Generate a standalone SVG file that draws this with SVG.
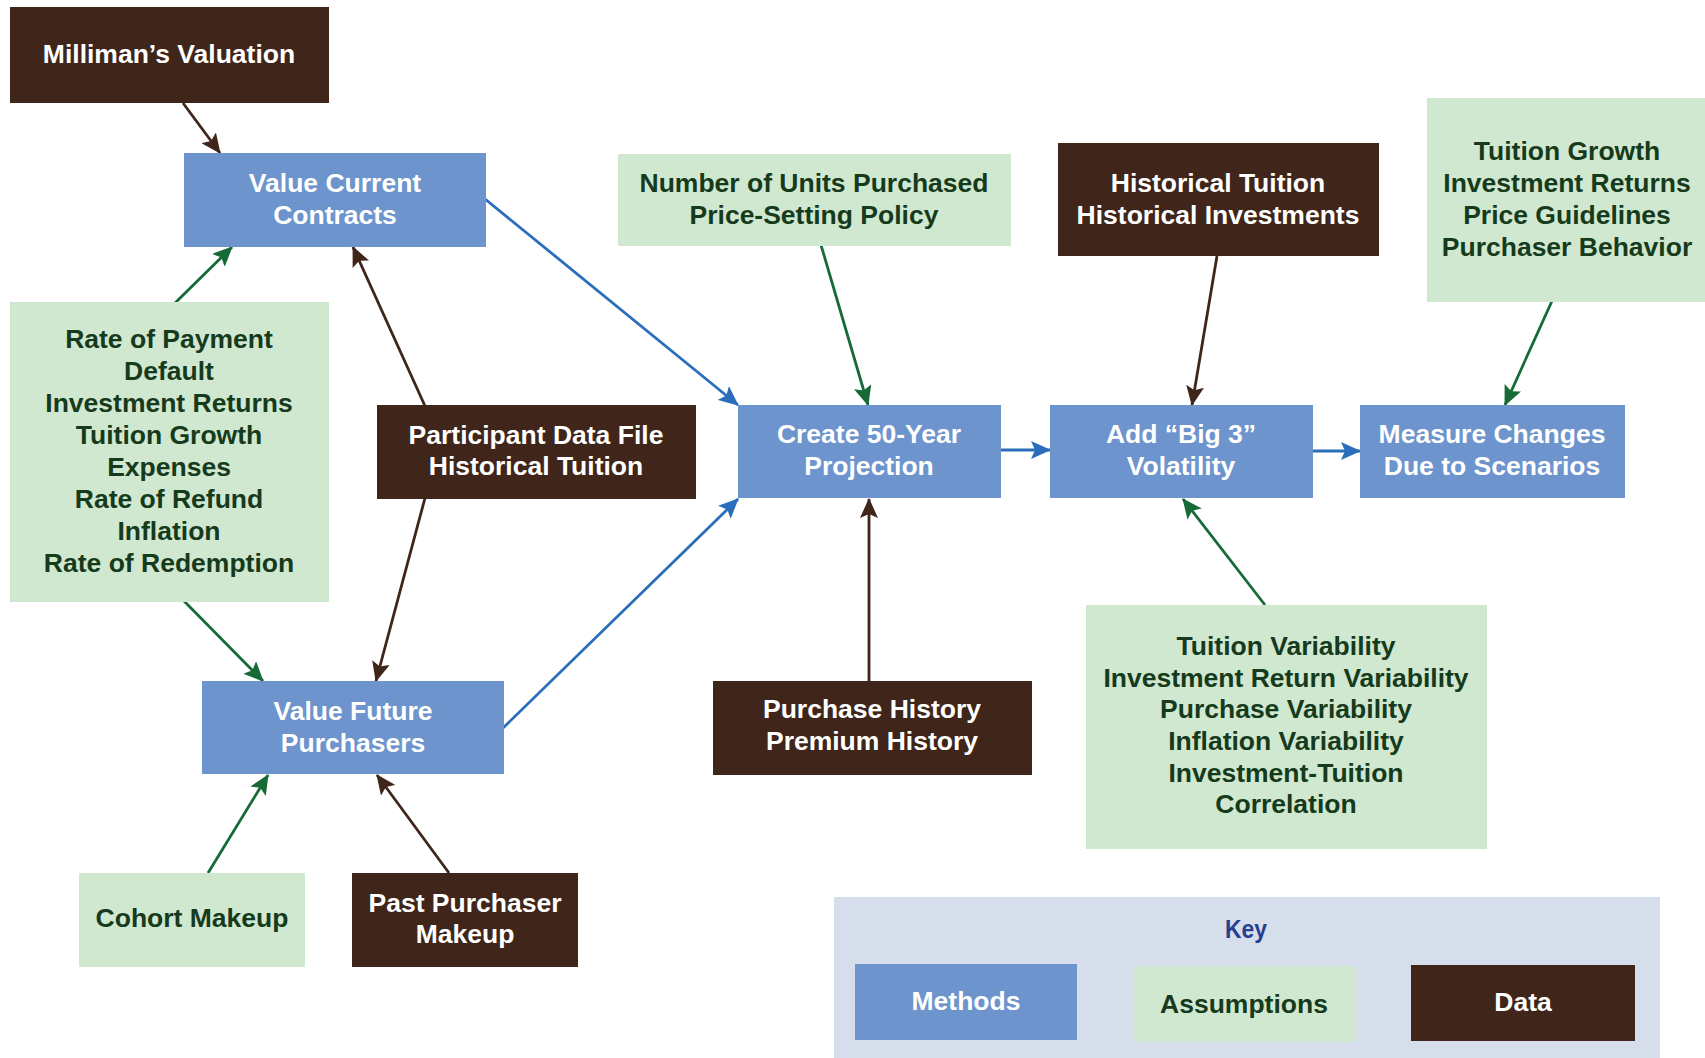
<svg xmlns="http://www.w3.org/2000/svg" width="1705" height="1058" viewBox="0 0 1705 1058">
<style>
.m{fill:#6d94cc}
.a{fill:#d0e8cf}
.d{fill:#40261a}
text{font-family:"Liberation Sans",Arial,sans-serif;font-weight:bold;font-size:26.5px;text-anchor:middle}
.tw{fill:#ffffff}
.tg{fill:#163a1c}
.cb{stroke:#2a6ebb;stroke-width:2.8;fill:none}
.cg{stroke:#166a36;stroke-width:2.8;fill:none}
.cd{stroke:#40261a;stroke-width:2.8;fill:none}
</style>
<defs>
<marker id="ab" viewBox="0 0 20 18" refX="19" refY="9" markerWidth="20" markerHeight="18" markerUnits="userSpaceOnUse" orient="auto"><path d="M0,0 L20,9 L0,18 L4,9 z" fill="#2a6ebb"/></marker>
<marker id="ag" viewBox="0 0 20 18" refX="19" refY="9" markerWidth="20" markerHeight="18" markerUnits="userSpaceOnUse" orient="auto"><path d="M0,0 L20,9 L0,18 L4,9 z" fill="#166a36"/></marker>
<marker id="ad" viewBox="0 0 20 18" refX="19" refY="9" markerWidth="20" markerHeight="18" markerUnits="userSpaceOnUse" orient="auto"><path d="M0,0 L20,9 L0,18 L4,9 z" fill="#40261a"/></marker>
</defs>
<rect width="1705" height="1058" fill="#ffffff"/>

<g id="connectors">
<line class="cd" x1="183" y1="103" x2="220" y2="153" marker-end="url(#ad)"/>
<line class="cg" x1="175" y1="303" x2="232" y2="247" marker-end="url(#ag)"/>
<line class="cd" x1="425" y1="406" x2="353" y2="247" marker-end="url(#ad)"/>
<line class="cd" x1="425" y1="498" x2="376" y2="681" marker-end="url(#ad)"/>
<line class="cg" x1="184" y1="601" x2="263" y2="681" marker-end="url(#ag)"/>
<line class="cb" x1="503" y1="728" x2="738" y2="499" marker-end="url(#ab)"/>
<line class="cb" x1="485" y1="199" x2="738" y2="405" marker-end="url(#ab)"/>
<line class="cg" x1="821" y1="245" x2="868" y2="405" marker-end="url(#ag)"/>
<line class="cd" x1="869" y1="682" x2="869" y2="499" marker-end="url(#ad)"/>
<line class="cb" x1="1001" y1="450" x2="1050" y2="450" marker-end="url(#ab)"/>
<line class="cd" x1="1217" y1="256" x2="1192" y2="405" marker-end="url(#ad)"/>
<line class="cb" x1="1313" y1="451" x2="1360" y2="451" marker-end="url(#ab)"/>
<line class="cg" x1="1552" y1="301" x2="1505" y2="405" marker-end="url(#ag)"/>
<line class="cg" x1="1265" y1="605" x2="1183" y2="499" marker-end="url(#ag)"/>
<line class="cg" x1="208" y1="873" x2="268" y2="775" marker-end="url(#ag)"/>
<line class="cd" x1="449" y1="873" x2="377" y2="775" marker-end="url(#ad)"/>
</g>

<g id="milliman">
<rect class="d" x="10" y="7" width="319" height="96"/>
<text class="tw" x="169" y="63">Milliman’s Valuation</text>
</g>

<g id="value-current">
<rect class="m" x="184" y="153" width="302" height="94"/>
<text class="tw" x="335" y="192">Value Current</text>
<text class="tw" x="335" y="224">Contracts</text>
</g>

<g id="assumptions-left">
<rect class="a" x="10" y="302" width="319" height="300"/>
<text class="tg" x="169" y="348">Rate of Payment</text>
<text class="tg" x="169" y="380">Default</text>
<text class="tg" x="169" y="412">Investment Returns</text>
<text class="tg" x="169" y="444">Tuition Growth</text>
<text class="tg" x="169" y="476">Expenses</text>
<text class="tg" x="169" y="508">Rate of Refund</text>
<text class="tg" x="169" y="540">Inflation</text>
<text class="tg" x="169" y="572">Rate of Redemption</text>
</g>

<g id="participant-data">
<rect class="d" x="377" y="405" width="319" height="94"/>
<text class="tw" x="536" y="444">Participant Data File</text>
<text class="tw" x="536" y="475">Historical Tuition</text>
</g>

<g id="value-future">
<rect class="m" x="202" y="681" width="302" height="93"/>
<text class="tw" x="353" y="720">Value Future</text>
<text class="tw" x="353" y="752">Purchasers</text>
</g>

<g id="units-purchased">
<rect class="a" x="618" y="154" width="393" height="92"/>
<text class="tg" x="814" y="192">Number of Units Purchased</text>
<text class="tg" x="814" y="224">Price-Setting Policy</text>
</g>

<g id="historical-tuition">
<rect class="d" x="1058" y="143" width="321" height="113"/>
<text class="tw" x="1218" y="192">Historical Tuition</text>
<text class="tw" x="1218" y="224">Historical Investments</text>
</g>

<g id="tuition-growth">
<rect class="a" x="1427" y="98" width="278" height="204"/>
<text class="tg" x="1567" y="160">Tuition Growth</text>
<text class="tg" x="1567" y="192">Investment Returns</text>
<text class="tg" x="1567" y="224">Price Guidelines</text>
<text class="tg" x="1567" y="256">Purchaser Behavior</text>
</g>

<g id="create-projection">
<rect class="m" x="738" y="405" width="263" height="93"/>
<text class="tw" x="869" y="443">Create 50-Year</text>
<text class="tw" x="869" y="475">Projection</text>
</g>

<g id="big3">
<rect class="m" x="1050" y="405" width="263" height="93"/>
<text class="tw" x="1181" y="443">Add “Big 3”</text>
<text class="tw" x="1181" y="475">Volatility</text>
</g>

<g id="measure-changes">
<rect class="m" x="1360" y="405" width="265" height="93"/>
<text class="tw" x="1492" y="443">Measure Changes</text>
<text class="tw" x="1492" y="475">Due to Scenarios</text>
</g>

<g id="purchase-history">
<rect class="d" x="713" y="681" width="319" height="94"/>
<text class="tw" x="872" y="718">Purchase History</text>
<text class="tw" x="872" y="750">Premium History</text>
</g>

<g id="variability">
<rect class="a" x="1086" y="605" width="401" height="244"/>
<text class="tg" x="1286" y="655">Tuition Variability</text>
<text class="tg" x="1286" y="687">Investment Return Variability</text>
<text class="tg" x="1286" y="718">Purchase Variability</text>
<text class="tg" x="1286" y="750">Inflation Variability</text>
<text class="tg" x="1286" y="782">Investment-Tuition</text>
<text class="tg" x="1286" y="813">Correlation</text>
</g>

<g id="cohort-makeup">
<rect class="a" x="79" y="873" width="226" height="94"/>
<text class="tg" x="192" y="927">Cohort Makeup</text>
</g>

<g id="past-purchaser">
<rect class="d" x="352" y="873" width="226" height="94"/>
<text class="tw" x="465" y="912">Past Purchaser</text>
<text class="tw" x="465" y="943">Makeup</text>
</g>

<g id="key">
<rect x="834" y="897" width="826" height="161" fill="#d6deec"/>
<text x="1246" y="938" fill="#26408f" font-size="28" textLength="42" lengthAdjust="spacingAndGlyphs">Key</text>
<rect class="m" x="855" y="964" width="222" height="76"/>
<text class="tw" x="966" y="1010">Methods</text>
<rect class="a" x="1133" y="966" width="222" height="76"/>
<text class="tg" x="1244" y="1013">Assumptions</text>
<rect class="d" x="1411" y="965" width="224" height="76"/>
<text class="tw" x="1523" y="1011">Data</text>
</g>
</svg>
